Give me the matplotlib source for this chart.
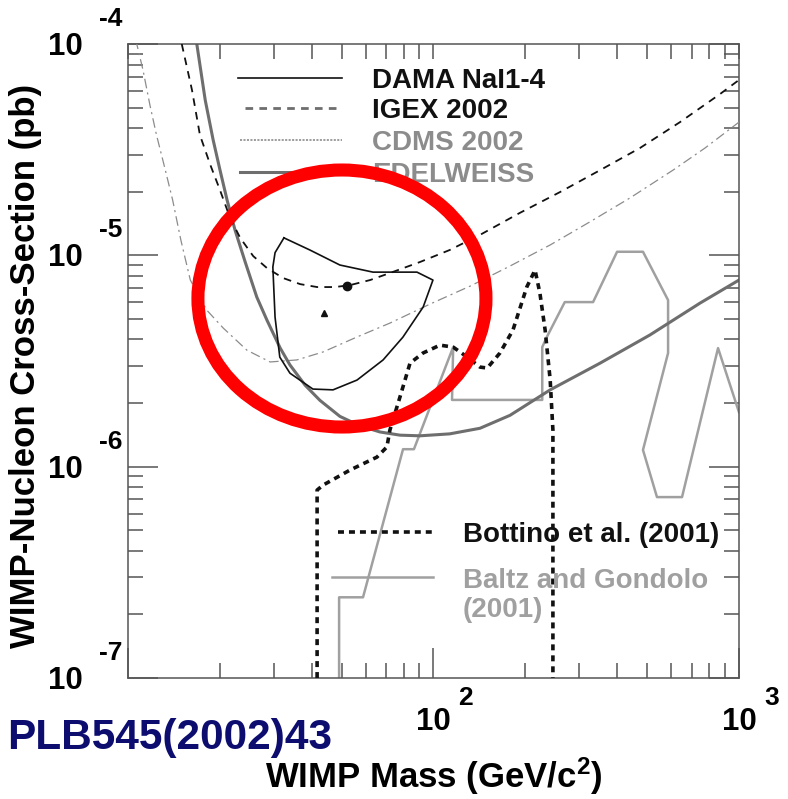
import matplotlib
matplotlib.use("Agg")
import matplotlib.pyplot as plt
from matplotlib.patches import Ellipse
from matplotlib.lines import Line2D
from matplotlib.ticker import LogLocator, NullFormatter

plt.rcParams['font.family'] = ['Liberation Sans', 'DejaVu Sans']
plt.rcParams['font.weight'] = 'bold'
plt.rcParams['mathtext.fontset'] = 'custom'
plt.rcParams['mathtext.rm'] = 'Liberation Sans:bold'
plt.rcParams['mathtext.bf'] = 'Liberation Sans:bold'
plt.rcParams['mathtext.default'] = 'bf'
plt.rcParams['lines.scale_dashes'] = False

# ---- exclusion limits (WIMP mass in GeV/c^2, cross-section in pb) ----
edelweiss_mass = [16.8, 17.9, 19.0, 20.0, 21.1, 22.4, 24.2, 26.4, 28.5, 31.5, 33.9, 38.0, 42.5,
                  49.4, 57.5, 66.8, 77.7, 90.3, 113, 142, 178, 241, 351, 511, 745, 1000]
edelweiss_xsec = [1.0e-4, 5.43e-5, 3.52e-5, 2.54e-5, 1.83e-5, 1.32e-5, 9.29e-6, 6.35e-6, 4.94e-6,
                  3.64e-6, 3.03e-6, 2.43e-6, 2.06e-6, 1.73e-6, 1.56e-6, 1.46e-6, 1.41e-6, 1.40e-6,
                  1.43e-6, 1.52e-6, 1.75e-6, 2.31e-6, 3.09e-6, 4.20e-6, 5.94e-6, 7.64e-6]

igex_mass = [15.0, 16.2, 17.2, 18.6, 20.0, 21.6, 23.3, 25.7, 28.5, 32.2, 36.6, 41.6, 47.6, 53.3,
             62.0, 72.0, 90.3, 113, 142, 192, 259, 351, 474, 641, 867, 1000]
igex_xsec = [1.0e-4, 6.06e-5, 3.71e-5, 2.68e-5, 2.04e-5, 1.50e-5, 1.21e-5, 9.92e-6, 8.71e-6,
             7.81e-6, 7.31e-6, 7.08e-6, 7.08e-6, 7.23e-6, 7.64e-6, 8.25e-6, 9.30e-6, 1.06e-5,
             1.25e-5, 1.59e-5, 1.99e-5, 2.53e-5, 3.22e-5, 4.27e-5, 5.80e-5, 6.76e-5]

cdms_mass = [10.6, 11.2, 11.8, 12.4, 13.2, 14.0, 14.9, 16.0, 18.1, 20.5, 24.5, 29.2, 35.7, 43.5,
             56.2, 72.0, 97.4, 132, 178, 241, 325, 440, 608, 774, 1000]
cdms_xsec = [1.05e-4, 7.53e-5, 5.14e-5, 3.71e-5, 2.59e-5, 1.83e-5, 1.18e-5, 7.64e-6, 5.51e-6,
             4.53e-6, 3.56e-6, 3.13e-6, 3.20e-6, 3.49e-6, 4.11e-6, 4.78e-6, 5.88e-6, 7.16e-6,
             8.90e-6, 1.12e-5, 1.44e-5, 1.87e-5, 2.53e-5, 3.22e-5, 4.27e-5]

# ---- DAMA allowed region (closed contour) and its two marked points ----
dama_mass = [32.4, 39.4, 49.4, 63.4, 88.3, 99.6, 92.5, 79.4, 68.4, 56.2, 46.9, 40.3, 33.9, 31.4,
             30.3, 29.8, 30.3, 32.4]
dama_xsec = [1.21e-5, 1.06e-5, 9.0e-6, 8.33e-6, 8.33e-6, 7.64e-6, 5.69e-6, 4.10e-6, 3.20e-6,
             2.57e-6, 2.31e-6, 2.33e-6, 2.77e-6, 3.30e-6, 5.10e-6, 8.81e-6, 1.03e-5, 1.21e-5]
dama_dot = (52.1, 7.16e-6)
dama_tri = (43.8, 5.33e-6)

# ---- theoretical predictions ----
bottino_mass = [41.6, 41.6, 43.5, 53.3, 65.3, 70.4, 72.0, 77.7, 83.8, 92.4, 105, 116, 129, 142,
                150, 165, 182, 202, 215, 223, 232, 241, 246, 246]
bottino_xsec = [1e-7, 7.75e-7, 8.18e-7, 9.64e-7, 1.11e-6, 1.24e-6, 1.49e-6, 2.14e-6, 3.09e-6,
                3.45e-6, 3.76e-6, 3.68e-6, 3.30e-6, 2.96e-6, 2.93e-6, 3.45e-6, 4.43e-6, 7.08e-6,
                8.52e-6, 6.63e-6, 4.43e-6, 2.57e-6, 1.49e-6, 1e-7]

baltz_mass = [49.1, 49.1, 58.8, 79.5, 86.3, 116, 115, 227, 227, 235, 269, 333, 399, 485, 586, 586,
              485, 539, 651, 854, 1000]
baltz_xsec = [1e-7, 2.41e-7, 2.41e-7, 1.21e-6, 1.21e-6, 3.68e-6, 2.07e-6, 2.07e-6, 3.68e-6,
              4.11e-6, 6.01e-6, 6.01e-6, 1.04e-5, 1.04e-5, 6.14e-6, 3.45e-6, 1.20e-6, 7.18e-7,
              7.18e-7, 3.64e-6, 1.81e-6]

# ---- axis ticks ----
x_major = [10, 100, 1000]
x_labelled_exp = [2, 3]
y_labelled_exp = [-4, -5, -6, -7]

upper_legend = ['DAMA NaI1-4', 'IGEX 2002', 'CDMS 2002', 'EDELWEISS']
lower_legend = ['Bottino et al. (2001)', 'Baltz and Gondolo', '(2001)']

BLACK = '#111111'
EDEL_GRAY = '#6e6e6e'
CDMS_GRAY = '#8c8c8c'
BALTZ_GRAY = '#a0a0a0'
AX_GRAY = '#555555'

fig = plt.figure(figsize=(7.88, 7.99), dpi=100)
ax = fig.add_axes([0.1624, 0.1514, 0.7754, 0.7935])
ax.set_xscale('log')
ax.set_yscale('log')
ax.set_xlim(10, 1000)
ax.set_ylim(1e-7, 1e-4)

# curves
ax.plot(baltz_mass, baltz_xsec, color=BALTZ_GRAY, lw=1.8, zorder=2)
ax.plot(edelweiss_mass, edelweiss_xsec, color=EDEL_GRAY, lw=2.2, zorder=2)
ax.plot(cdms_mass, cdms_xsec, color=CDMS_GRAY, lw=0.9, dashes=(7, 3, 1.5, 3), zorder=3)
ax.plot(igex_mass, igex_xsec, color=BLACK, lw=1.3, dashes=(5.5, 4.5), zorder=4)
ax.plot(bottino_mass, bottino_xsec, color=BLACK, lw=2.6, dashes=(4.3, 3.6), zorder=4)
ax.plot(dama_mass, dama_xsec, color=BLACK, lw=1.2, zorder=5)
ax.plot([dama_dot[0]], [dama_dot[1]], 'o', color=BLACK, ms=6, zorder=6)
ax.plot([dama_tri[0]], [dama_tri[1]], '^', color=BLACK, ms=5, zorder=6)

# axes frame and ticks
for s in ax.spines.values():
    s.set_color(AX_GRAY)
    s.set_linewidth(1.1)
ax.set_xticks(x_major)
ax.set_yticks([10.0 ** e for e in y_labelled_exp])
ax.xaxis.set_minor_locator(LogLocator(base=10, subs=range(2, 10), numticks=50))
ax.yaxis.set_minor_locator(LogLocator(base=10, subs=range(2, 10), numticks=50))
ax.xaxis.set_minor_formatter(NullFormatter())
ax.yaxis.set_minor_formatter(NullFormatter())
ax.tick_params(which='major', direction='in', length=21.6, width=1.1, color=AX_GRAY)
ax.tick_params(which='minor', direction='in', length=10.8, width=1.1, color=AX_GRAY)
ax.tick_params(axis='y', which='both', left=True, right=True, labelleft=False, labelright=False)
ax.tick_params(axis='x', which='both', bottom=True, top=False, labelbottom=False)

axt = ax.twiny()
axt.set_xscale('log')
axt.set_xlim(ax.get_xlim())
axt.set_xticks(x_major)
axt.xaxis.set_minor_locator(LogLocator(base=10, subs=range(2, 10), numticks=50))
axt.xaxis.set_minor_formatter(NullFormatter())
axt.tick_params(axis='x', which='both', direction='in', length=10.8, width=1.1, color=AX_GRAY,
                top=True, labeltop=False)
for s in axt.spines.values():
    s.set_visible(False)

# tick labels drawn as base + raised exponent
for e in y_labelled_exp:
    ax.annotate('10', xy=(0, 10.0 ** e), xycoords=('axes fraction', 'data'),
                xytext=(-45.4, -7.9), textcoords='offset points', ha='center', va='baseline',
                fontsize=22.5, fontweight='bold', annotation_clip=False)
    ax.annotate(str(e), xy=(0, 10.0 ** e), xycoords=('axes fraction', 'data'),
                xytext=(-20.6, 13.0), textcoords='offset points', ha='left', va='baseline',
                fontsize=19, fontweight='bold', annotation_clip=False)
for e in x_labelled_exp:
    ax.annotate('10', xy=(10.0 ** e, 0), xycoords=('data', 'axes fraction'),
                xytext=(0, -37.4), textcoords='offset points', ha='center', va='baseline',
                fontsize=22.5, fontweight='bold', annotation_clip=False)
    ax.annotate(str(e), xy=(10.0 ** e, 0), xycoords=('data', 'axes fraction'),
                xytext=(18, -19.4), textcoords='offset points', ha='left', va='baseline',
                fontsize=19, fontweight='bold', annotation_clip=False)

# upper legend
leg_styles = [dict(color=BLACK, lw=1.2),
              dict(color=EDEL_GRAY, lw=2.0, dashes=(5.5, 4.5)),
              dict(color=CDMS_GRAY, lw=1.2, dashes=(1.5, 1.0)),
              dict(color=EDEL_GRAY, lw=2.2)]
leg_x0 = [0.180, 0.1915, 0.183, 0.183]
leg_y = [0.9464, 0.8991, 0.8486, 0.7981]
leg_base = [0.9306, 0.8833, 0.8328, 0.7823]
leg_colors = [BLACK, BLACK, CDMS_GRAY, CDMS_GRAY]
for lab, st, x0, y, yb, c in zip(upper_legend, leg_styles, leg_x0, leg_y, leg_base, leg_colors):
    ax.add_line(Line2D([x0, 0.350], [y, y], transform=ax.transAxes, clip_on=False, zorder=5, **st))
    ax.text(0.3993, yb, lab, transform=ax.transAxes, ha='left', va='baseline', fontsize=20,
            fontweight='bold', color=c, zorder=5)

# lower legend
ax.add_line(Line2D([0.3437, 0.4992], [0.2303, 0.2303], transform=ax.transAxes, color=BLACK,
                   lw=2.6, dashes=(4.3, 3.6), zorder=5))
ax.add_line(Line2D([0.3339, 0.4992], [0.1593, 0.1593], transform=ax.transAxes, color=BALTZ_GRAY,
                   lw=1.8, zorder=5))
ax.text(0.5483, 0.2145, lower_legend[0], transform=ax.transAxes, ha='left', va='baseline',
        fontsize=20, fontweight='bold', color=BLACK, zorder=5)
ax.text(0.5483, 0.1420, lower_legend[1], transform=ax.transAxes, ha='left', va='baseline',
        fontsize=20, fontweight='bold', color=BALTZ_GRAY, zorder=5)
ax.text(0.5483, 0.0962, lower_legend[2], transform=ax.transAxes, ha='left', va='baseline',
        fontsize=20, fontweight='bold', color=BALTZ_GRAY, zorder=5)

# red highlight ring around the DAMA region
ax.add_patch(Ellipse((0.3502, 0.5986), 0.4714, 0.4054, transform=ax.transAxes, fill=False,
                     edgecolor='#ff0000', lw=9.4, zorder=10, clip_on=False))

# axis titles and reference tag
fig.text(433.5 / 788, 1 - 788 / 799, r'WIMP Mass (GeV/c$^{2}$)', ha='center', va='baseline',
         fontsize=25, fontweight='bold')
fig.text(26 / 788, 1 - 366 / 799, 'WIMP-Nucleon Cross-Section (pb)', rotation=90,
         ha='center', va='center', fontsize=25, fontweight='bold')
fig.text(7 / 788, 1 - 749 / 799, 'PLB545(2002)43', ha='left', va='baseline', fontsize=30.5,
         fontweight='bold', color='#0d0d70')

fig.savefig('out.png', dpi=100)
